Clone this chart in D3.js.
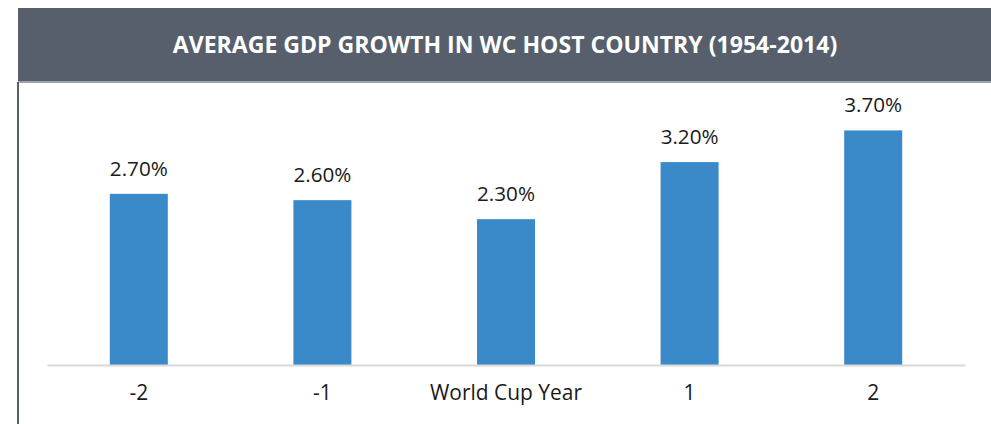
<!DOCTYPE html>
<html><head><meta charset="utf-8">
<script src="https://cdn.jsdelivr.net/npm/d3@7"></script>
<style>html,body{margin:0;padding:0;background:#fff;overflow:hidden}</style>
</head><body>
<script>
const title = "AVERAGE GDP GROWTH IN WC HOST COUNTRY (1954-2014)";
const categories = ["-2", "-1", "World Cup Year", "1", "2"];
const values = [2.7, 2.6, 2.3, 3.2, 3.7];
const valueLabels = ["2.70%", "2.60%", "2.30%", "3.20%", "3.70%"];

const W = 991, H = 424;
const FONT = "'Open Sans', 'Noto Sans', sans-serif";
const svg = d3.select("body").append("svg").attr("width", W).attr("height", H)
  .style("font-family", FONT);

function fitSize(text, weight, target) {
  const tmp = svg.append("text").attr("font-size", 20).attr("font-weight", weight).text(text);
  const w = tmp.node().getComputedTextLength();
  tmp.remove();
  return 20 * target / w;
}

// title bar
svg.append("rect").attr("x", 18).attr("y", 8).attr("width", W - 18).attr("height", 74).attr("fill", "#565f6b");
svg.append("rect").attr("x", 18).attr("y", 81).attr("width", W - 18).attr("height", 2).attr("fill", "#9ca3ab");
svg.append("rect").attr("x", 17).attr("y", 82).attr("width", 2).attr("height", H - 82).attr("fill", "#565f6b");

const titleSize = fitSize(title, "bold", 665);
svg.append("text").attr("x", 505).attr("y", 53).attr("text-anchor", "middle")
  .attr("fill", "#ffffff").attr("font-weight", "bold").attr("font-size", titleSize).text(title);

const labelSize = fitSize("World Cup Year", "normal", 152);
const valSize = fitSize("2.70%", "normal", 58);

const x = d3.scaleBand().domain(categories).range([47, 965]).paddingInner(0.684).paddingOuter(0.342);
const y = d3.scaleLinear().domain([0, 4]).range([365, 111.4]);

svg.append("g").selectAll("rect").data(values).join("rect")
  .attr("x", (d, i) => x(categories[i]))
  .attr("y", d => y(d))
  .attr("width", x.bandwidth())
  .attr("height", d => y(0) - y(d))
  .attr("fill", "#3a89c9");

svg.append("g").selectAll("text").data(values).join("text")
  .attr("x", (d, i) => x(categories[i]) + x.bandwidth() / 2)
  .attr("y", d => y(d) - 18)
  .attr("text-anchor", "middle").attr("font-size", valSize).attr("fill", "#1a1a1a")
  .text((d, i) => valueLabels[i]);

const axis = d3.axisBottom(x).tickSize(0).tickPadding(20);
const ag = svg.append("g").attr("transform", "translate(0,365)").call(axis);
ag.select(".domain").attr("stroke", "#d9d9d9").attr("stroke-width", 2);
ag.selectAll("text").attr("font-size", labelSize).attr("fill", "#1a1a1a")
  .style("font-family", FONT);
</script>
</body></html>
